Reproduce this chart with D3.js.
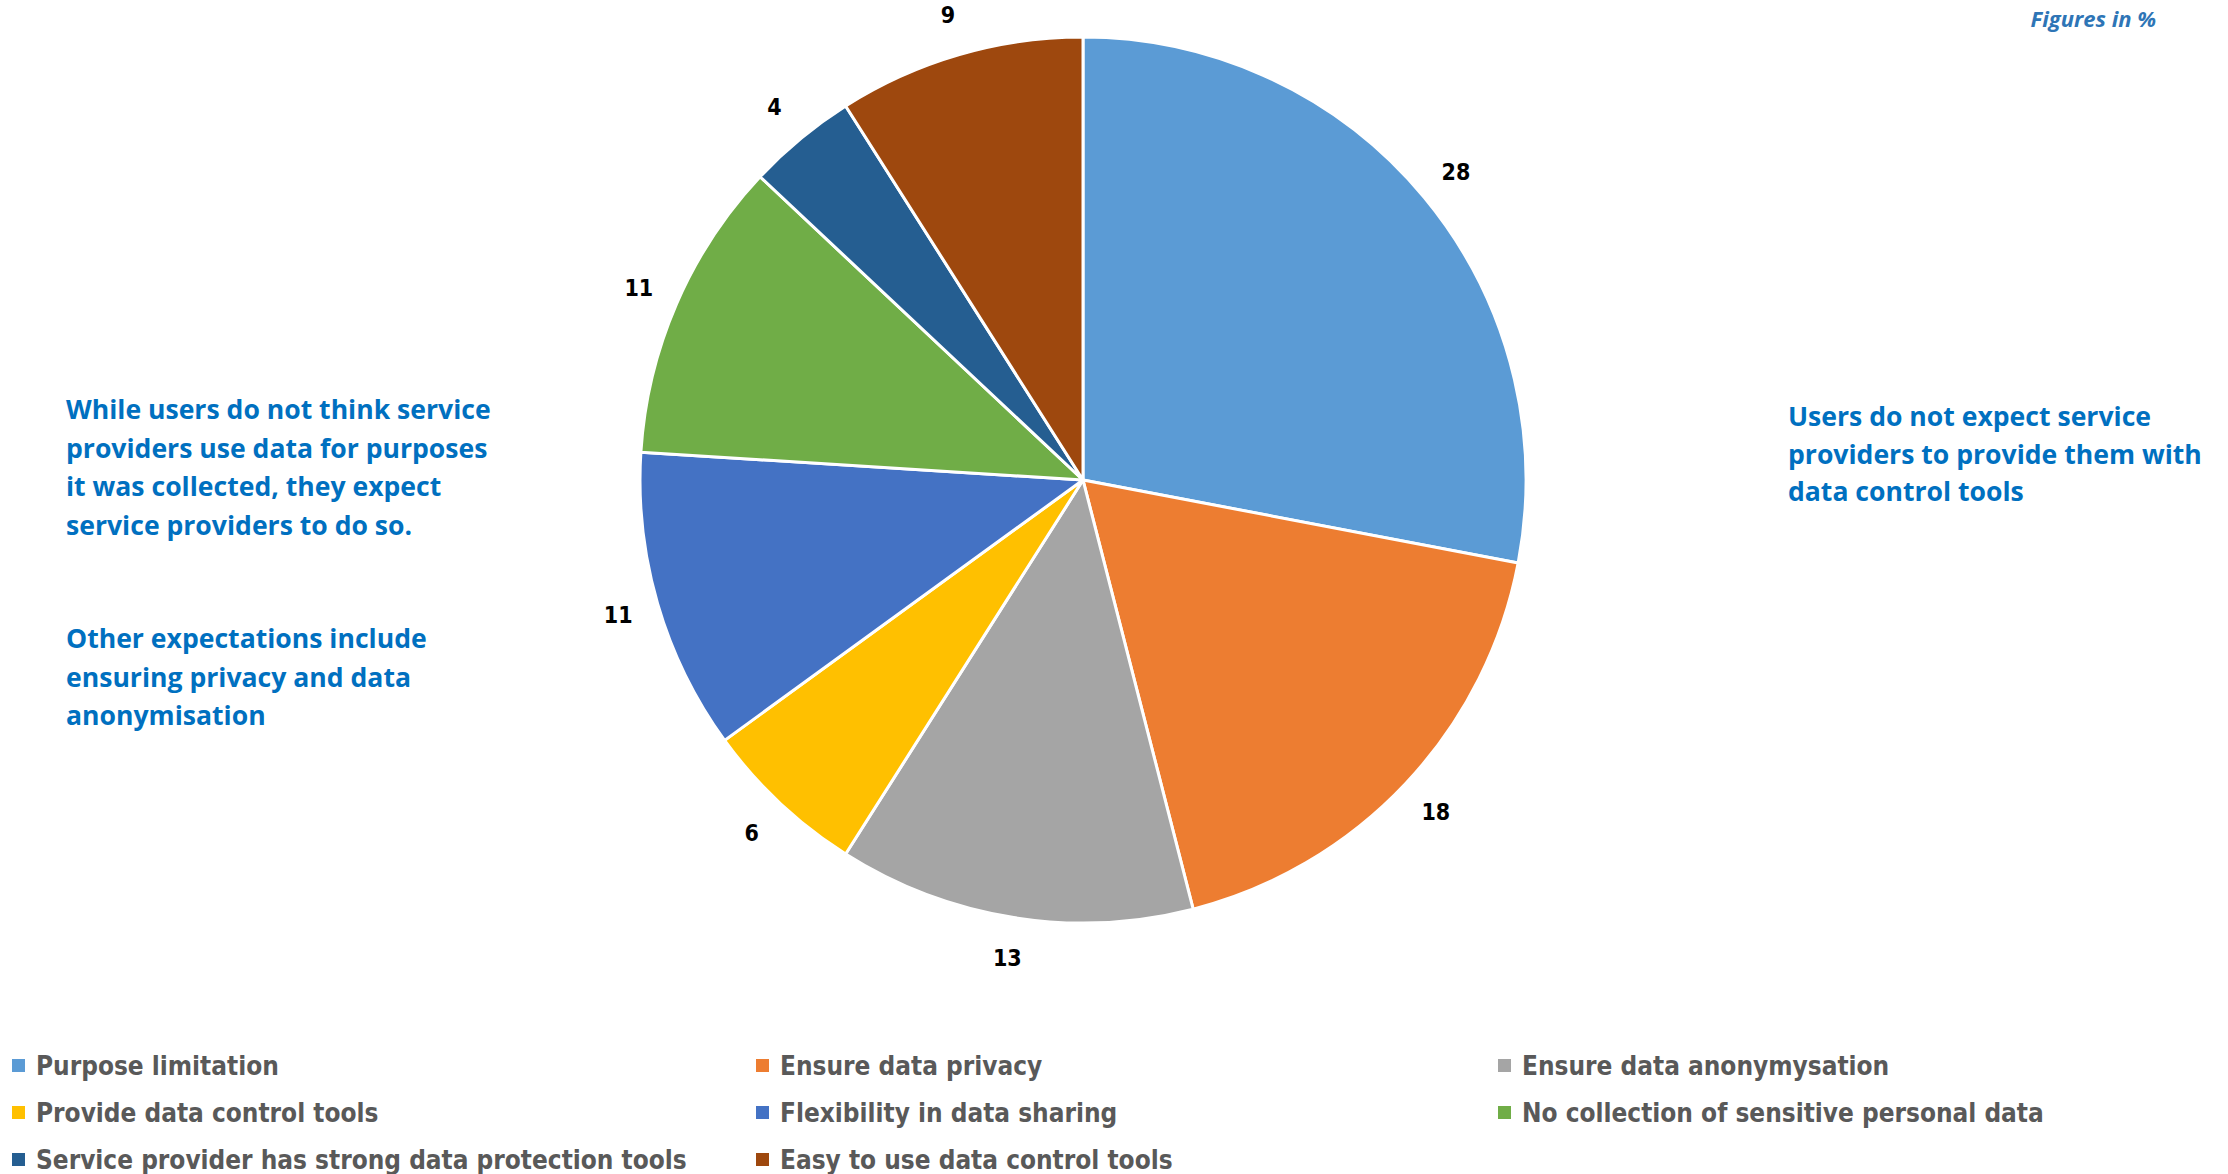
<!DOCTYPE html>
<html>
<head>
<meta charset="utf-8">
<script src="https://cdn.jsdelivr.net/npm/d3@7"></script>
<style>
  html, body { margin: 0; padding: 0; background: #fff; }
  svg { display: block; }
</style>
</head>
<body>
<svg id="chart" width="2228" height="1174"></svg>
<script>
const categories = [
  "Purpose limitation",
  "Ensure data privacy",
  "Ensure data anonymysation",
  "Provide data control tools",
  "Flexibility in data sharing",
  "No collection of sensitive personal data",
  "Service provider has strong data protection tools",
  "Easy to use data control tools"
];
const values = [28, 18, 13, 6, 11, 11, 4, 9];
const colors = ["#5B9BD5", "#ED7D31", "#A5A5A5", "#FFC000", "#4472C4", "#70AD47", "#255E91", "#9E480E"];
const leftNote1 = ["While users do not think service", "providers use data for purposes", "it was collected, they expect", "service providers to do so."];
const leftNote2 = ["Other expectations include", "ensuring privacy and data", "anonymisation"];
const rightNote = ["Users do not expect service", "providers to provide them with", "data control tools"];
const unitNote = "Figures in %";

const svg = d3.select("#chart");
const narrow = "'Liberation Sans Narrow', 'DejaVu Sans Condensed', 'Roboto', sans-serif";
const humanist = "'Open Sans', 'Noto Sans', 'Lato', sans-serif";

function fitWidth(sel, target) {
  const node = sel.node();
  const w = node.getComputedTextLength();
  const fs = parseFloat(sel.attr("font-size"));
  return fs * target / w;
}

// Pie
const cx = 1083, cy = 480, R = 443;
const g = svg.append("g").attr("transform", `translate(${cx},${cy})`);
const pie = d3.pie().sort(null).value(d => d.v);
const data = values.map((v, i) => ({ v, c: colors[i], name: categories[i] }));
const arcs = pie(data);
const arc = d3.arc().innerRadius(0).outerRadius(R);
const labelArc = d3.arc().innerRadius(484).outerRadius(484);

g.selectAll("path.slice").data(arcs).join("path")
  .attr("class", "slice")
  .attr("d", arc)
  .attr("fill", d => d.data.c)
  .attr("stroke", "#fff")
  .attr("stroke-width", 3)
  .attr("stroke-linejoin", "round");

g.selectAll("text.lbl").data(arcs).join("text")
  .attr("class", "lbl")
  .attr("transform", d => `translate(${labelArc.centroid(d)})`)
  .attr("text-anchor", "middle")
  .attr("dy", "0.36em")
  .attr("font-family", narrow)
  .attr("font-weight", "bold")
  .attr("font-size", 23)
  .attr("fill", "#000")
  .text(d => d.data.v);

// Legend
const legendCols = [12, 756, 1498];
const legendRows = [1075, 1122, 1169];
const leg = svg.append("g");
const items = leg.selectAll("g.item").data(categories).join("g")
  .attr("class", "item")
  .attr("transform", (d, i) => `translate(${legendCols[i % 3]},${legendRows[Math.floor(i / 3)]})`);
items.append("rect")
  .attr("x", 0).attr("y", -16).attr("width", 13).attr("height", 13)
  .attr("fill", (d, i) => colors[i]);
const legTexts = items.append("text")
  .attr("x", 24).attr("y", 0)
  .attr("font-family", narrow)
  .attr("font-weight", "bold")
  .attr("font-size", 30)
  .attr("fill", "#595959")
  .text(d => d);
const legFs = fitWidth(d3.select(legTexts.nodes()[0]), 243);
legTexts.attr("font-size", legFs);

// Notes
function block(lines, x, y0, lh, fs) {
  const t = svg.append("g");
  return t.selectAll("text").data(lines).join("text")
    .attr("x", x).attr("y", (d, i) => y0 + i * lh)
    .attr("font-family", humanist)
    .attr("font-weight", "bold")
    .attr("font-size", fs)
    .attr("fill", "#0070C0")
    .text(d => d);
}
const b1 = block(leftNote1, 66, 419, 38.7, 28);
const noteFs = fitWidth(d3.select(b1.nodes()[0]), 425);
b1.attr("font-size", noteFs);
block(leftNote2, 66, 648, 38.7, noteFs);
block(rightNote, 1788, 426, 37.5, noteFs);

svg.append("text")
  .attr("x", 2156).attr("y", 27)
  .attr("text-anchor", "end")
  .attr("font-family", humanist)
  .attr("font-weight", "bold")
  .attr("font-style", "italic")
  .attr("font-size", 22)
  .attr("fill", "#2E75B6")
  .text(unitNote);
</script>
</body>
</html>
